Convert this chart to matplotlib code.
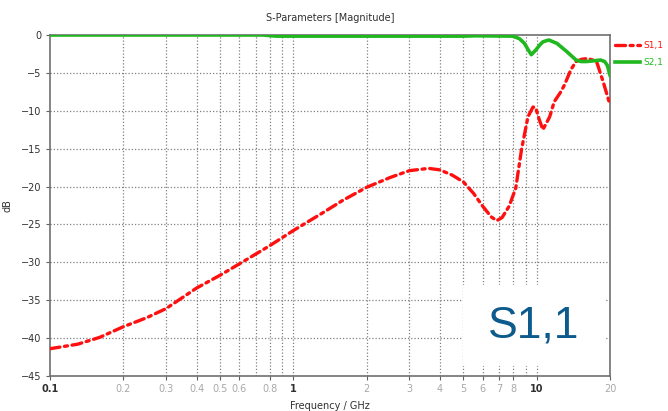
import matplotlib
matplotlib.use("Agg")
import matplotlib.pyplot as plt
from matplotlib.patches import Rectangle

# ---- data ----
f_s11 = [0.1, 0.13, 0.16, 0.2, 0.25, 0.3, 0.4, 0.5, 0.6, 0.8, 1.0, 1.3, 1.6, 2.0, 2.5,
         3.0, 3.6, 4.0, 4.5, 5.0, 5.5, 6.0, 6.5, 6.85, 7.2, 7.7, 8.2, 8.65, 9.2, 9.65,
         9.9, 10.25, 10.6, 11.3, 11.8, 12.5, 13.0, 13.8, 14.5, 15.3, 16.2, 17.0, 17.7,
         18.8, 20.0]
s11_db = [-41.4, -40.8, -39.9, -38.5, -37.3, -36.1, -33.4, -31.7, -30.2, -27.8, -25.8,
          -23.6, -21.8, -20.1, -18.8, -17.9, -17.6, -17.8, -18.5, -19.4, -20.9, -22.6,
          -24.0, -24.5, -24.1, -22.6, -20.2, -15.2, -10.8, -9.5, -9.6, -11.2, -12.5,
          -10.8, -8.8, -7.6, -6.6, -4.6, -3.5, -3.2, -3.1, -3.3, -3.7, -6.3, -9.2]

f_s21 = [0.1, 0.75, 0.85, 5.0, 5.6, 8.0, 8.5, 8.9, 9.2, 9.5, 9.9, 10.3, 10.6, 11.2,
         12.1, 13.3, 14.5, 15.2, 16.0, 17.2, 18.3, 19.0, 19.5, 20.0]
s21_db = [0.0, 0.0, -0.15, -0.15, -0.1, -0.15, -0.5, -1.1, -1.9, -2.6, -2.0, -1.3,
          -0.9, -0.66, -1.1, -2.2, -3.3, -3.5, -3.5, -3.4, -3.3, -3.5, -4.0, -5.3]

x_ticks = [0.1, 0.2, 0.3, 0.4, 0.5, 0.6, 0.8, 1, 2, 3, 4, 5, 6, 7, 8, 10, 20]
x_ticklabels = ["0.1", "0.2", "0.3", "0.4", "0.5", "0.6", "0.8", "1", "2", "3", "4",
                "5", "6", "7", "8", "10", "20"]
x_grid = [0.2, 0.3, 0.4, 0.5, 0.6, 0.7, 0.8, 0.9, 1, 2, 3, 4, 5, 6, 7, 8, 9, 10]
y_ticks = [0, -5, -10, -15, -20, -25, -30, -35, -40, -45]

# ---- figure ----
fig = plt.figure(figsize=(6.68, 4.11), dpi=100)
ax = fig.add_axes([50/668, 1-376/411, 560/668, 341/411])
ax.set_xscale("log")
ax.set_xlim(0.1, 20)
ax.set_ylim(-45, 0)

grid_kw = dict(color="#808080", lw=0.9, ls=(0, (1, 1.6)), zorder=1)
for xv in x_grid:
    ax.axvline(xv, **grid_kw)
for yv in y_ticks[1:-1]:
    ax.axhline(yv, **grid_kw)

# white label box
ax.add_patch(Rectangle((0.7375, 0.028), 0.2555, 0.24, transform=ax.transAxes,
                       facecolor="white", edgecolor="none", zorder=2))
ax.text(0.864, 0.147, "S1,1", transform=ax.transAxes, ha="center", va="center",
        fontsize=32, color="#0d5a8c", zorder=3,
        family=["Liberation Sans Narrow", "Liberation Sans", "DejaVu Sans"])

l1, = ax.plot(f_s11, s11_db, color="#ff1010", lw=2.4, ls=(0, (3, 1.4, 0.9, 1.4)),
              label="S1,1", zorder=4, solid_capstyle="round", dash_capstyle="round")
l2, = ax.plot(f_s21, s21_db, color="#1fb81f", lw=2.6, label="S2,1", zorder=4)

ax.set_xticks(x_ticks)
ax.set_xticklabels(x_ticklabels)
ax.set_xticks([], minor=True)
ax.set_yticks(y_ticks)
ax.tick_params(axis="both", length=3, width=0.8, color="#606060", labelsize=7,
               pad=3)
for lab in ax.get_xticklabels():
    if lab.get_text() in ("0.1", "1", "10"):
        lab.set_color("#303030")
        lab.set_fontweight("bold")
    else:
        lab.set_color("#a8a8a8")
for lab in ax.get_yticklabels():
    lab.set_color("#303030")

for s in ax.spines.values():
    s.set_color("#707070")
    s.set_linewidth(1.2)

ax.set_title("S-Parameters [Magnitude]", fontsize=7, color="#303030", pad=10)
ax.set_xlabel("Frequency / GHz", fontsize=7, color="#303030", labelpad=5)
ax.set_ylabel("dB", fontsize=7, color="#303030", labelpad=6)

leg = ax.legend(handles=[l1, l2], loc="upper left", bbox_to_anchor=(0.998, 1.0),
                frameon=False, fontsize=6.5, handlelength=2.8, handletextpad=0.3,
                labelspacing=0.9, borderaxespad=0.3)
leg.get_texts()[0].set_color("#ff1010")
leg.get_texts()[1].set_color("#1fb81f")

fig.savefig("out.png", dpi=100)
